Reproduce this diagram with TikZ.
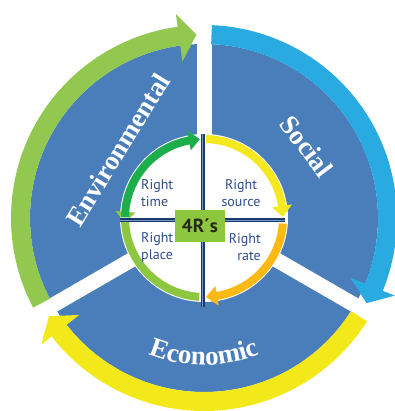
\documentclass[tikz,border=0pt]{standalone}
\usepackage{fontspec}
\setmainfont{Liberation Serif}
\newfontfamily\lblfont{PT Sans}
\usetikzlibrary{decorations.text}
\definecolor{diskblue}{RGB}{74,126,187}
\definecolor{envgreen}{RGB}{146,200,80}
\definecolor{socblue}{RGB}{41,171,226}
\definecolor{ecoyellow}{RGB}{242,232,26}
\definecolor{igreen}{RGB}{28,174,75}
\definecolor{iyellow}{RGB}{244,232,30}
\definecolor{iorange}{RGB}{253,185,19}
\definecolor{ilgreen}{RGB}{141,198,63}
\definecolor{boxgreen}{RGB}{141,198,63}
\definecolor{txtblue}{RGB}{45,78,140}
\definecolor{navy}{RGB}{30,58,108}
\definecolor{boxtext}{RGB}{40,40,28}
\tikzset{
  inlabel/.style={font=\lblfont\fontsize{14}{17}\selectfont, text=txtblue, inner sep=0pt},
  bigtext/.style={font=\fontsize{27}{27}\selectfont\bfseries, text=white, inner sep=0pt},
  crossline/.style={navy, line width=4pt},
}
\begin{document}
\begin{tikzpicture}[x=1pt,y=1pt]
\useasboundingbox (-204,-193) rectangle (190,218);
% blue disk
\fill[diskblue] (0,0) circle[radius=174];
% white gaps
\foreach \a in {90,210,330} \draw[white, line width=15pt] (0,0) -- (\a:215);
% outer ring arrows
\fill[envgreen] (207.65:174) arc[start angle=207.65, end angle=97.85, radius=174]
  -- (97.85:158) -- (92.35:183.5) -- (97.85:206) -- (97.85:193)
  arc[start angle=97.85, end angle=207.65, radius=193] -- cycle;
\fill[socblue] (87.65:174) arc[start angle=87.65, end angle=-22.15, radius=174]
  -- (-22.15:158) -- (-27.65:183.5) -- (-22.15:206) -- (-22.15:193)
  arc[start angle=-22.15, end angle=87.65, radius=193] -- cycle;
\fill[ecoyellow] (-32.35:174) arc[start angle=-32.35, end angle=-142.15, radius=174]
  -- (-142.15:158) -- (-147.65:183.5) -- (-142.15:206) -- (-142.15:193)
  arc[start angle=-142.15, end angle=-32.35, radius=193] -- cycle;
% inner white disk
\fill[white] (0,0) circle[radius=84];
% inner arrows
\fill[igreen] (179.5:75) arc[start angle=179.5, end angle=101, radius=75]
  -- (101:69) -- (93:79) -- (101:89) -- (101:83)
  arc[start angle=101, end angle=179.5, radius=83] -- cycle;
\fill[iyellow] (88.5:75) arc[start angle=88.5, end angle=8.8, radius=75]
  -- (8.8:69) -- (0.8:79) -- (8.8:89) -- (8.8:83)
  arc[start angle=8.8, end angle=88.5, radius=83] -- cycle;
\fill[iorange] (-4:75) arc[start angle=-4, end angle=-80.5, radius=75]
  -- (-80.5:69) -- (-88.5:79) -- (-80.5:89) -- (-80.5:83)
  arc[start angle=-80.5, end angle=-4, radius=83] -- cycle;
\fill[ilgreen] (-93.5:75) arc[start angle=-93.5, end angle=-184.5, radius=75]
  -- (-184.5:69) -- (-176.5:79) -- (-184.5:89) -- (-184.5:83)
  arc[start angle=-184.5, end angle=-93.5, radius=83] -- cycle;
% cross
\coordinate (ctop) at (-1.5,84);
\coordinate (cbot) at (-1.5,-89);
\coordinate (cleft) at (-84,-2);
\coordinate (cright) at (81,-2);
\draw[crossline] (ctop) -- (cbot);
\draw[crossline] (cleft) -- (cright);
\draw[diskblue!80!white, line width=0.8pt] (ctop) -- (cbot);
\draw[diskblue!80!white, line width=0.8pt] (cleft) -- (cright);
% inner labels
\node[inlabel, align=left, anchor=west] (rtime) at (-63,25) {Right\\time};
\node[inlabel, align=center] (rsource) at (37,25) {Right\\source};
\node[inlabel, align=left, anchor=west] (rplace) at (-63,-29) {Right\\place};
\node[inlabel, align=right, anchor=east] (rrate) at (57,-29) {Right\\rate};
% 4R's box
\node[fill=boxgreen, minimum width=50, minimum height=32, inner sep=0pt,
      font=\lblfont\bfseries\fontsize{19}{19}\selectfont, text=boxtext] (box) at (-4,-8) {4R´s};
% big labels
\node[bigtext, rotate=58.5] (env) at (-86,68) {Environmental};
\node[bigtext, rotate=-53] (soc) at (103,71.5) {Social};
\path[decorate, decoration={text along path, text align=center,
   text={|\fontsize{27}{27}\selectfont\bfseries\color{white}|Economic}}]
   (225:147) arc[start angle=225, end angle=315, radius=147];
\end{tikzpicture}
\end{document}
